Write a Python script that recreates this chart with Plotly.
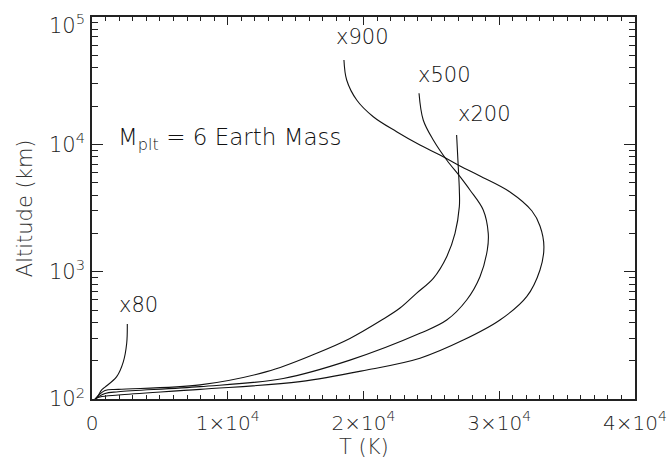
import numpy as np
import plotly.graph_objects as go

# ---- data ----
T_x900 = [18560, 18760, 19500, 20720, 22440, 24160, 25630, 27110, 28580, 30790, 32410, 33000,
          33290, 33000, 32020, 30050, 27350, 24160, 20240, 15320, 7955, 1940, 590, 220]
Z_x900 = [45900, 32000, 22300, 16480, 12570, 9880, 8250, 6760, 5640, 4225, 2995, 2285,
          1570, 1031, 636, 417, 290, 209, 169, 137, 119, 107.5, 103.7, 100]

T_x500 = [24090, 24400, 25140, 26130, 27110, 27840, 28820, 29190, 29120, 28580, 27600, 26130,
          24160, 19000, 14090, 7955, 1940, 960, 220]
Z_x500 = [25180, 15530, 10820, 7535, 5570, 4380, 3050, 2000, 1480, 913, 599, 417,
          328, 202, 145, 125, 114, 110.5, 100]

T_x200 = [26860, 26980, 27060, 27060, 26740, 26130, 25140, 23900, 22690, 21340, 19000, 16550,
          12870, 7955, 1940, 960, 220]
Z_x200 = [11840, 6670, 4380, 3240, 2000, 1312, 887, 676, 518, 417, 299, 229,
          164, 129, 119, 116.6, 100]

T_x80 = [2600, 2556, 2306, 1819, 958, 714, 464, 272]
Z_x80 = [388, 274, 196, 150, 124, 118, 107, 100]

series_names = ["x900", "x500", "x200", "x80"]
series_T = [T_x900, T_x500, T_x200, T_x80]
series_Z = [Z_x900, Z_x500, Z_x200, Z_x80]
label_T = [19960, 25930, 28910, 3460]
label_Z = [69700, 35050, 17220, 552]
mass_label = "M<sub>plt</sub> = 6 Earth Mass"
mass_label_Z = 11000

x_title = "T (K)"
y_title = "Altitude (km)"
x_tickvals = [0, 10000, 20000, 30000, 40000]
x_ticktext = ["0", "1×10<sup>4</sup>", "2×10<sup>4</sup>", "3×10<sup>4</sup>", "4×10<sup>4</sup>"]
y_tickvals = [100, 1000, 10000, 100000]
y_ticktext = ["10<sup>2</sup>", "10<sup>3</sup>", "10<sup>4</sup>", "10<sup>5</sup>"]
x_minor = list(range(0, 40001, 1000))
y_minor = [m * 10 ** e for e in (2, 3, 4) for m in range(2, 10)]

FONT = "DejaVu Sans"
TXT = "#111111"
fig = go.Figure()
for name, T, Z in zip(series_names, series_T, series_Z):
    fig.add_trace(go.Scatter(x=T, y=Z, mode="lines", name=name,
                             line=dict(color="#111111", width=1.1, shape="spline", smoothing=1.0),
                             showlegend=False, hoverinfo="skip"))

for name, tx, tz in zip(series_names, label_T, label_Z):
    fig.add_annotation(x=tx, y=np.log10(tz), text=name, showarrow=False,
                       font=dict(family=FONT, size=21, color=TXT, weight=300))

fig.add_annotation(x=0.044, xref="paper", y=np.log10(mass_label_Z), yref="y",
                   xanchor="left", yanchor="middle",
                   text=mass_label, showarrow=False,
                   font=dict(family=FONT, size=23, color=TXT, weight=300))

# axis titles placed as paper annotations
fig.add_annotation(x=0.5, xref="paper", y=-0.126, yref="paper", xanchor="center", yanchor="middle",
                   text=x_title, showarrow=False,
                   font=dict(family=FONT, size=21, color="#333333", weight=300))
fig.add_annotation(x=-0.123, xref="paper", y=0.5, yref="paper", xanchor="center", yanchor="middle",
                   text=y_title, textangle=-90, showarrow=False,
                   font=dict(family=FONT, size=21, color="#333333", weight=300))

# the top y label sits a little lower (kept inside the page), drawn as annotation
fig.add_annotation(x=0, xref="paper", y=np.log10(y_tickvals[-1]), yref="y",
                   xanchor="right", yanchor="middle", xshift=-5, yshift=-7,
                   text=y_ticktext[-1], showarrow=False,
                   font=dict(family=FONT, size=21, color="#222222", weight=300))
y_axis_text = y_ticktext[:-1] + [""]

axis_common = dict(showgrid=False, zeroline=False, showline=True, linecolor="#222222",
                   linewidth=1.5, mirror="ticks", ticks="inside", tickcolor="#222222",
                   tickwidth=1.2, automargin=False, ticklabeloverflow="allow")

fig.update_xaxes(range=[0, 40000], tickvals=x_tickvals, ticktext=x_ticktext, ticklen=8,
                 ticklabelstandoff=5,
                 tickfont=dict(family=FONT, size=20, color="#222222", weight=300),
                 minor=dict(tickvals=x_minor, ticks="inside", ticklen=4, tickcolor="#222222", tickwidth=1),
                 **axis_common)
fig.update_yaxes(type="log", range=[2, 5], tickvals=y_tickvals, ticktext=y_axis_text, ticklen=11,
                 ticklabelstandoff=1,
                 tickfont=dict(family=FONT, size=21, color="#222222", weight=300),
                 minor=dict(tickvals=y_minor, ticks="inside", ticklen=6, tickcolor="#222222", tickwidth=1),
                 **axis_common)

fig.update_layout(width=668, height=464, paper_bgcolor="white", plot_bgcolor="white",
                  margin=dict(l=92, r=33, t=17, b=65), hovermode=False)

# remove the default page margin so the 668x464 figure fills the window exactly
fig.write_html("out.html", config={"displayModeBar": False},
               post_script="document.body.style.margin='0';document.body.style.overflow='hidden';")
